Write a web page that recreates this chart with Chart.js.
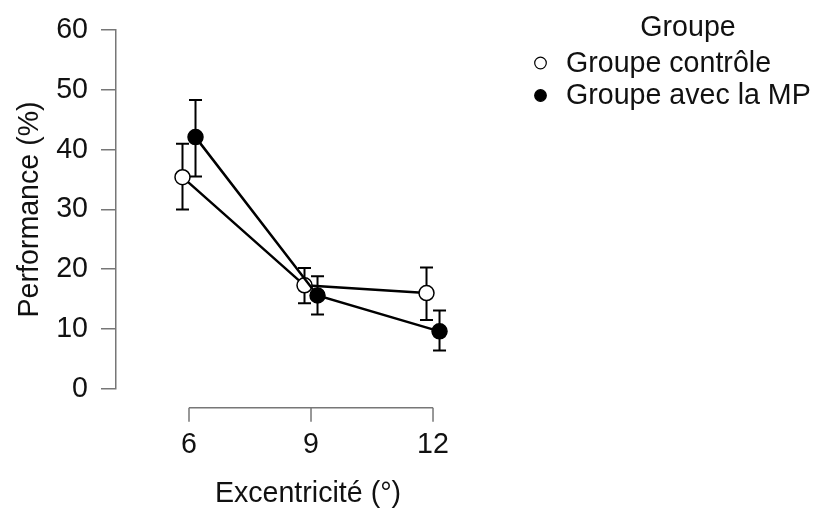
<!DOCTYPE html>
<html>
<head>
<meta charset="utf-8">
<script src="https://cdn.jsdelivr.net/npm/chart.js@4/dist/chart.umd.min.js"></script>
<style>
  html, body { margin: 0; padding: 0; background: #fff; }
</style>
</head>
<body>
<canvas id="myChart" width="814" height="510"></canvas>
<script>
// DONNÉES DU GRAPHIQUE
const excentricites = [6, 9, 12];
const xTickLabels = ["6", "9", "12"];
const yTicks = [0, 10, 20, 30, 40, 50, 60];
const groupes = ["Groupe contrôle", "Groupe avec la MP"];

const controleMoy = [35.4, 17.3, 16.0];
const controleBas = [30.0, 14.3, 11.5];
const controleHaut = [41.0, 20.2, 20.3];

const mpMoy = [42.1, 15.6, 9.6];
const mpBas = [35.5, 12.4, 6.4];
const mpHaut = [48.3, 18.8, 13.1];

// STYLE
const FONT = "'Liberation Sans', Arial, sans-serif";
const TAILLE = 28.6;
const AXE = "#777";
const decalage = 0.16;

function points(moy, bas, haut, dx) {
    return excentricites.map((x, i) => ({ x: x + dx, y: moy[i], bas: bas[i], haut: haut[i] }));
}

// BARRES D'ERREUR (sous les lignes et les points)
const barresErreur = {
    id: "barresErreur",
    beforeDatasetsDraw(chart) {
        const { ctx, scales: { x, y } } = chart;
        ctx.save();
        ctx.strokeStyle = "#000";
        ctx.lineWidth = 2;
        chart.data.datasets.forEach((ds) => {
            ds.data.forEach((p) => {
                const px = x.getPixelForValue(p.x);
                const yb = y.getPixelForValue(p.bas);
                const yh = y.getPixelForValue(p.haut);
                ctx.beginPath();
                ctx.moveTo(px, yb); ctx.lineTo(px, yh);
                ctx.moveTo(px - 6.5, yb); ctx.lineTo(px + 6.5, yb);
                ctx.moveTo(px - 6.5, yh); ctx.lineTo(px + 6.5, yh);
                ctx.stroke();
            });
        });
        ctx.restore();
    }
};

// AXE X DÉTACHÉ (style R)
const axeX = {
    id: "axeX",
    afterDraw(chart) {
        const { ctx, chartArea, scales: { x } } = chart;
        const y0 = chartArea.bottom + 19;
        ctx.save();
        ctx.strokeStyle = AXE;
        ctx.lineWidth = 1.5;
        ctx.beginPath();
        ctx.moveTo(x.getPixelForValue(excentricites[0]), y0);
        ctx.lineTo(x.getPixelForValue(excentricites[excentricites.length - 1]), y0);
        excentricites.forEach((v) => {
            const px = x.getPixelForValue(v);
            ctx.moveTo(px, y0);
            ctx.lineTo(px, y0 + 14);
        });
        ctx.stroke();
        ctx.restore();
    }
};

// LÉGENDE
const legende = {
    id: "legende",
    afterDraw(chart) {
        const ctx = chart.ctx;
        ctx.save();
        ctx.font = TAILLE + "px " + FONT;
        ctx.fillStyle = "#111";
        ctx.textBaseline = "middle";
        ctx.textAlign = "center";
        ctx.fillText("Groupe", 688, 28);
        ctx.textAlign = "left";
        groupes.forEach((nom, i) => {
            const ds = chart.data.datasets.find((d) => d.label === nom);
            const cy = 63 + i * 32.5;
            ctx.beginPath();
            ctx.arc(540.5, cy, 5.8, 0, Math.PI * 2);
            ctx.fillStyle = ds.pointBackgroundColor;
            ctx.fill();
            ctx.lineWidth = 1.2;
            ctx.strokeStyle = "#000";
            ctx.stroke();
            ctx.fillStyle = "#111";
            ctx.fillText(nom, 566, cy + 1);
        });
        ctx.restore();
    }
};

const datasets = [
    {
        label: groupes[0],
        data: points(controleMoy, controleBas, controleHaut, -decalage),
        order: 1,
        showLine: true,
        borderColor: "#000",
        borderWidth: 2.5,
        pointRadius: 7.5,
        pointBorderWidth: 1.5,
        pointBackgroundColor: "#fff",
        pointBorderColor: "#000"
    },
    {
        label: groupes[1],
        data: points(mpMoy, mpBas, mpHaut, decalage),
        order: 0,
        showLine: true,
        borderColor: "#000",
        borderWidth: 2.5,
        pointRadius: 7.5,
        pointBorderWidth: 1.5,
        pointBackgroundColor: "#000",
        pointBorderColor: "#000"
    }
];

const config = {
    type: "scatter",
    data: { datasets },
    options: {
        responsive: false,
        animation: false,
        layout: { padding: { top: 23, right: 314, bottom: 0, left: 0 } },
        plugins: { legend: { display: false }, tooltip: { enabled: false } },
        scales: {
            x: {
                type: "linear",
                min: 4.205,
                max: 13.647,
                afterBuildTicks: (axis) => { axis.ticks = excentricites.map((v) => ({ value: v })); },
                afterFit: (axis) => { axis.height = 121.3; },
                grid: { display: false, drawTicks: false },
                border: { display: false },
                ticks: {
                    padding: 39,
                    color: "#111",
                    font: { size: TAILLE, family: FONT },
                    maxRotation: 0,
                    callback: (v, i) => xTickLabels[i]
                },
                title: {
                    display: true,
                    text: "Excentricité (°)",
                    color: "#111",
                    font: { size: TAILLE, family: FONT, lineHeight: 1.1 },
                    padding: { top: 0, bottom: 0 }
                }
            },
            y: {
                min: 0,
                max: 60,
                afterBuildTicks: (axis) => { axis.ticks = yTicks.map((v) => ({ value: v })); },
                afterFit: (axis) => { axis.width = 116; },
                grid: { drawOnChartArea: false, drawTicks: true, tickLength: 15, color: AXE, lineWidth: 1.5 },
                border: { display: true, color: AXE, width: 1.5 },
                ticks: {
                    padding: 13,
                    color: "#111",
                    font: { size: TAILLE, family: FONT }
                },
                title: {
                    display: true,
                    text: "Performance (%)",
                    color: "#111",
                    font: { size: TAILLE, family: FONT, lineHeight: 1.1 },
                    padding: { top: 14, bottom: 0 }
                }
            }
        }
    },
    plugins: [barresErreur, axeX, legende]
};

window.grafica = new Chart(document.getElementById("myChart"), config);
</script>
</body>
</html>
